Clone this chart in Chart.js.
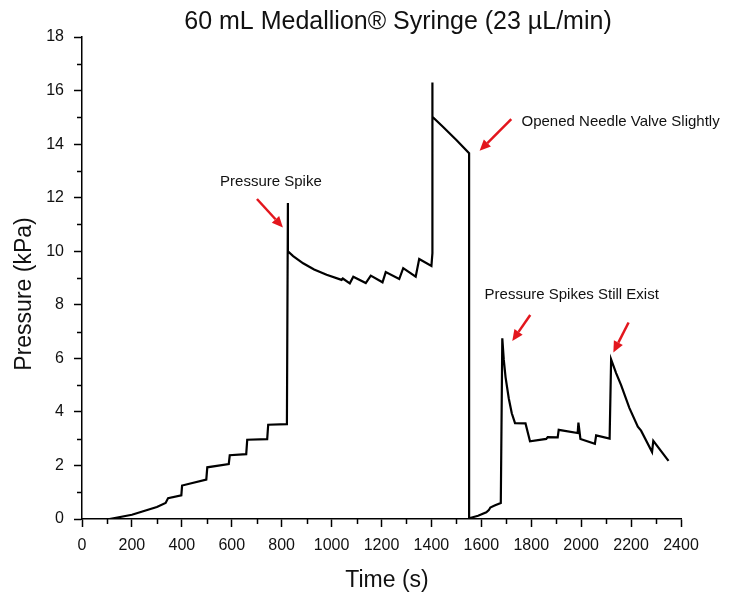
<!DOCTYPE html>
<html>
<head>
<meta charset="utf-8">
<script src="https://cdn.jsdelivr.net/npm/chart.js@4"></script>
<style>
  html, body { margin: 0; padding: 0; background: #fff; }
</style>
</head>
<body>
<canvas id="chart" width="744" height="595"></canvas>
<script>
// pressure trace, syringe pump run
const time = [
  110, 200, 300, 335, 345, 398, 401, 498, 502, 588, 592, 658, 662, 742, 746, 821,
  825, 825, 846, 886, 930, 980, 1040, 1045, 1073, 1087, 1137, 1157, 1204, 1217,
  1271, 1287, 1337, 1351, 1400, 1404, 1404, 1404, 1446, 1500, 1551, 1551,
  1587, 1620, 1630, 1636, 1653, 1678, 1684, 1690, 1697, 1710, 1722, 1735, 1777,
  1795, 1860, 1866, 1906, 1910, 1986, 1989, 1997, 2055, 2060, 2114, 2120,
  2140, 2160, 2193, 2227, 2240, 2284, 2289, 2350
];
const pressure = [
  0, 0.16, 0.45, 0.6, 0.78, 0.88, 1.25, 1.47, 1.93, 2.05, 2.38, 2.42, 2.96, 2.98, 3.52, 3.54,
  11.8, 10.0, 9.82, 9.55, 9.32, 9.12, 8.93, 8.98, 8.80, 9.05, 8.81, 9.09, 8.84, 9.22,
  8.96, 9.37, 9.05, 9.71, 9.45, 9.93, 16.3, 15.02, 14.65, 14.15, 13.66, 0.03,
  0.12, 0.25, 0.33, 0.43, 0.5, 0.6, 6.75, 5.94, 5.3, 4.5, 3.95, 3.58, 3.57,
  2.9, 2.99, 3.06, 3.05, 3.33, 3.21, 3.6, 2.99, 2.81, 3.12, 3.0, 5.96,
  5.45, 5.0, 4.15, 3.45, 3.3, 2.5, 2.92, 2.17
];

const chartTitle = '60 mL Medallion\u00AE Syringe (23 \u00B5L/min)';
const xTitle = 'Time (s)';
const yTitle = 'Pressure (kPa)';

// notes: text anchor and arrow tail/tip, all in data units
const notes = [
  { text: 'Pressure Spike', align: 'center', at: [757, 12.44], arrows: [[[701, 11.95], [805, 10.89]]] },
  { text: 'Opened Needle Valve Slightly', align: 'left', at: [1761, 14.69], arrows: [[[1720, 14.93], [1593, 13.75]]] },
  { text: 'Pressure Spikes Still Exist', align: 'left', at: [1613, 8.23],
    arrows: [[[1796, 7.62], [1724, 6.65]], [[2190, 7.34], [2129, 6.22]]] }
];

const FONT = '"Liberation Sans", Arial, sans-serif';
const INK = '#111';

function arrow(ctx, x0, y0, x1, y1) {
  const a = Math.atan2(y1 - y0, x1 - x0);
  const len = 11, half = 5;
  const bx = x1 - Math.cos(a) * len, by = y1 - Math.sin(a) * len;
  ctx.beginPath();
  ctx.moveTo(x0, y0);
  ctx.lineTo(bx, by);
  ctx.stroke();
  ctx.beginPath();
  ctx.moveTo(x1, y1);
  ctx.lineTo(bx + Math.sin(a) * half, by - Math.cos(a) * half);
  ctx.lineTo(bx - Math.sin(a) * half, by + Math.cos(a) * half);
  ctx.closePath();
  ctx.fill();
}

const overlay = {
  id: 'overlay',
  afterDraw(chart) {
    const { ctx, scales: { x, y } } = chart;
    ctx.save();

    // minor ticks between the labelled ones
    ctx.strokeStyle = '#000';
    ctx.lineWidth = 1.5;
    ctx.beginPath();
    for (let v = 100; v < 2400; v += 200) {
      const px = Math.round(x.getPixelForValue(v)) + 0.5;
      ctx.moveTo(px, x.top);
      ctx.lineTo(px, x.top + 5);
    }
    for (let v = 1; v < 18; v += 2) {
      const py = Math.round(y.getPixelForValue(v)) + 0.5;
      ctx.moveTo(y.right, py);
      ctx.lineTo(y.right - 5, py);
    }
    ctx.stroke();

    // titles
    ctx.fillStyle = INK;
    ctx.textBaseline = 'alphabetic';
    ctx.textAlign = 'center';
    ctx.font = '25px ' + FONT;
    ctx.fillText(chartTitle, 398, 29);
    ctx.font = '23px ' + FONT;
    ctx.fillText(xTitle, 387, 587);
    ctx.save();
    ctx.translate(31, 294);
    ctx.rotate(-Math.PI / 2);
    ctx.fillText(yTitle, 0, 0);
    ctx.restore();

    // notes and red arrows
    ctx.font = '15px ' + FONT;
    ctx.strokeStyle = '#e3161d';
    ctx.fillStyle = '#e3161d';
    ctx.lineWidth = 2.5;
    notes.forEach(n => {
      n.arrows.forEach(([t, h]) => {
        arrow(ctx, x.getPixelForValue(t[0]), y.getPixelForValue(t[1]),
          x.getPixelForValue(h[0]), y.getPixelForValue(h[1]));
      });
    });
    ctx.fillStyle = INK;
    notes.forEach(n => {
      ctx.textAlign = n.align;
      ctx.fillText(n.text, x.getPixelForValue(n.at[0]), y.getPixelForValue(n.at[1]));
    });

    ctx.restore();
  }
};

const axisStyle = {
  border: { display: true, color: '#000', width: 1.5 },
  grid: { drawOnChartArea: false, drawTicks: true, tickLength: 8, tickColor: '#000', tickWidth: 1.5 }
};
const tickFont = { family: FONT, size: 16 };

new Chart(document.getElementById('chart'), {
  type: 'line',
  data: {
    datasets: [{
      data: time.map((t, i) => ({ x: t, y: pressure[i] })),
      borderColor: '#000',
      borderWidth: 2.2,
      pointRadius: 0,
      tension: 0,
      fill: false
    }]
  },
  options: {
    responsive: false,
    animation: false,
    layout: { padding: { left: 0, right: 63, top: 37, bottom: 0 } },
    plugins: { legend: { display: false }, title: { display: false }, tooltip: { enabled: false } },
    scales: {
      x: {
        type: 'linear',
        min: 0, max: 2400,
        ...axisStyle,
        ticks: { stepSize: 200, autoSkip: false, maxRotation: 0, padding: 9, color: INK, font: tickFont,
          callback: v => String(v) },
        afterFit: s => { s.height = 76; }
      },
      y: {
        min: 0, max: 18,
        ...axisStyle,
        ticks: { stepSize: 2, padding: 10, color: INK, font: tickFont, callback: v => String(v) },
        afterFit: s => { s.width = 82; }
      }
    }
  },
  plugins: [overlay]
});
</script>
</body>
</html>
